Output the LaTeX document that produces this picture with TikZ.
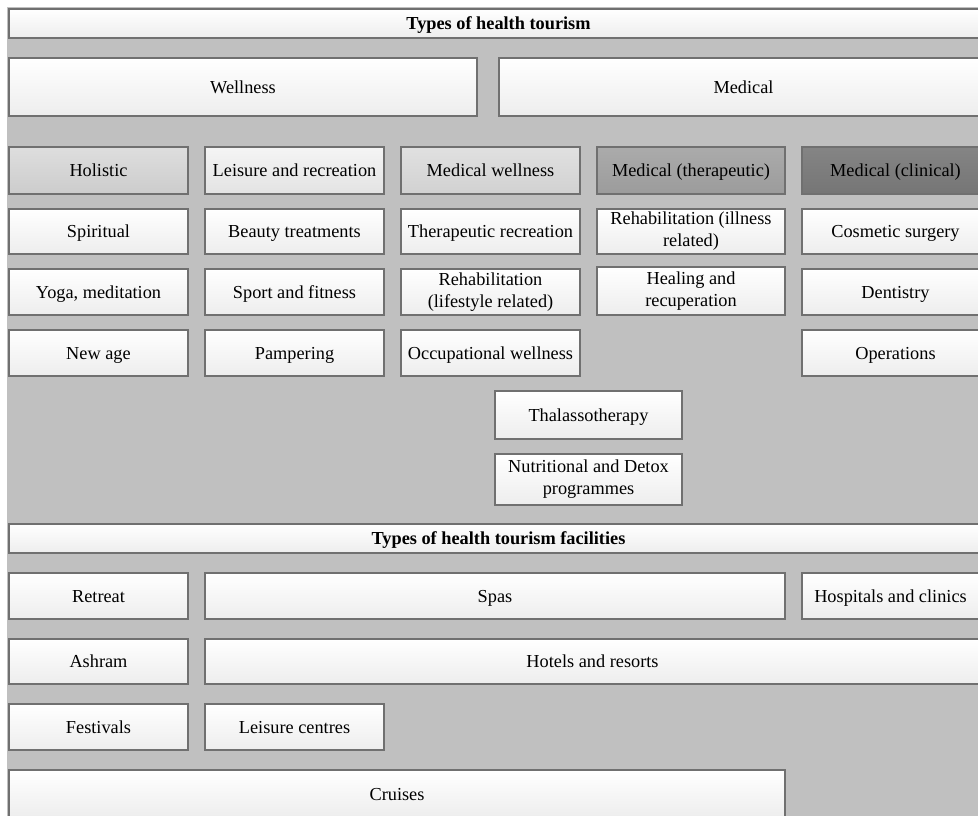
\documentclass[tikz,border=0pt]{standalone}
\usepackage{fontspec}
\setmainfont{Liberation Serif}
\usetikzlibrary{positioning}
\definecolor{bggrey}{RGB}{192,192,192}
\definecolor{edgegrey}{RGB}{112,112,112}

\begin{document}
\begin{tikzpicture}[x=1pt,y=-1pt,
    cell/.style={draw=edgegrey,line width=1.1pt,inner sep=0pt,align=center,
      top color=white,bottom color=black!7,
      execute at begin node={\rule[-4pt]{0pt}{20.5pt}},
      font=\fontsize{18.3}{22}\selectfont},
    head/.style={cell,font=\fontsize{18.3}{22}\selectfont\bfseries},
    wid/.style={minimum width=#1},
    hgt/.style={minimum height=#1}]
  \useasboundingbox[clip] (0,0) rectangle (978,815);
  \fill[bggrey] (7,7) rectangle (990,830);
  % types of health tourism
  \node[head,wid=979,hgt=29] (types) at (498.5,23.5) {Types of health tourism};
  \node[cell,wid=468,hgt=58] (wellness) at (243,87) {Wellness};
  \node[cell,wid=489,hgt=58] (medical) at (743.5,87) {Medical};
  % category row
  \node[cell,wid=179,hgt=47,top color=black!13,bottom color=black!20] (holistic) at (98.5,170.5) {Holistic};
  \node[cell,wid=179,hgt=47,top color=black!4,bottom color=black!11] (leisure) at (294.5,170.5) {Leisure and recreation};
  \node[cell,wid=179,hgt=47,top color=black!12,bottom color=black!18] (medwell) at (490.5,170.5) {Medical wellness};
  \node[cell,wid=188,hgt=47,top color=black!33,bottom color=black!39] (medther) at (691,170.5) {Medical (therapeutic)};
  \node[cell,wid=187,hgt=47,top color=black!48,bottom color=black!54] (medclin) at (895.5,170.5) {Medical (clinical)};
  % holistic
  \node[cell,wid=179,hgt=45] (spiritual) at (98.5,231.5) {Spiritual};
  \node[cell,wid=179,hgt=46] (yoga) at (98.5,292) {Yoga, meditation};
  \node[cell,wid=179,hgt=46] (newage) at (98.5,353) {New age};
  % leisure and recreation
  \node[cell,wid=179,hgt=45] (beauty) at (294.5,231.5) {Beauty treatments};
  \node[cell,wid=179,hgt=46] (sport) at (294.5,292) {Sport and fitness};
  \node[cell,wid=179,hgt=46] (pamper) at (294.5,353) {Pampering};
  % medical wellness
  \node[cell,wid=179,hgt=45] (therrec) at (490.5,231.5) {Therapeutic recreation};
  \node[cell,wid=179,hgt=46] (rehablife) at (490.5,292) {Rehabilitation\\(lifestyle related)};
  \node[cell,wid=179,hgt=46] (occup) at (490.5,353) {Occupational wellness};
  % medical (therapeutic)
  \node[cell,wid=188,hgt=45] (rehabill) at (691,231.5) {Rehabilitation (illness\\related)};
  \node[cell,wid=188,hgt=48] (healing) at (691,291) {Healing and\\recuperation};
  % medical (clinical)
  \node[cell,wid=187,hgt=45] (cosmetic) at (895.5,231.5) {Cosmetic surgery};
  \node[cell,wid=187,hgt=46] (dentistry) at (895.5,292) {Dentistry};
  \node[cell,wid=187,hgt=46] (operations) at (895.5,353) {Operations};
  % shared
  \node[cell,wid=187,hgt=48] (thalasso) at (588.5,415) {Thalassotherapy};
  \node[cell,wid=187,hgt=51] (detox) at (588.5,479.5) {Nutritional and Detox\\programmes};
  % types of facilities
  \node[head,wid=979,hgt=29] (facil) at (498.5,538.5) {Types of health tourism facilities};
  \node[cell,wid=179,hgt=46] (retreat) at (98.5,596) {Retreat};
  \node[cell,wid=580,hgt=46] (spas) at (495,596) {Spas};
  \node[cell,wid=177,hgt=46] (hospitals) at (890.5,596) {Hospitals and clinics};
  \node[cell,wid=179,hgt=45] (ashram) at (98.5,661.5) {Ashram};
  \node[cell,wid=775,hgt=45] (hotels) at (592.5,661.5) {Hotels and resorts};
  \node[cell,wid=179,hgt=46] (festivals) at (98.5,727) {Festivals};
  \node[cell,wid=179,hgt=46] (leiscentre) at (294.5,727) {Leisure centres};
  \node[cell,wid=776,hgt=48] (cruises) at (397,794) {Cruises};
\end{tikzpicture}
\end{document}
